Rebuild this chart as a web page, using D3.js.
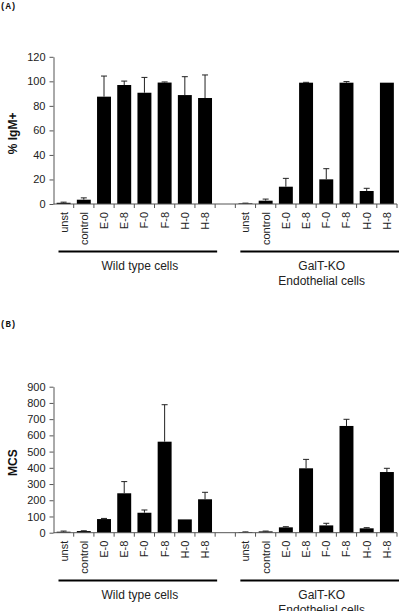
<!DOCTYPE html>
<html><head><meta charset="utf-8">
<script src="https://cdn.jsdelivr.net/npm/d3@7"></script>
<style>body{margin:0;background:#fff}svg{display:block}</style>
</head><body>
<script>
const categories = ["unst","control","E-0","E-8","F-0","F-8","H-0","H-8"];
const groups = ["Wild type cells", "GalT-KO\nEndothelial cells"];
// Panel A: % IgM+
const aWT = [1, 3.5, 87.5, 97, 90.7, 99, 88.8, 86.4];
const aWTerr = [0.5, 1.5, 16.8, 3.2, 12.5, 0.5, 15, 18.8];
const aKO = [0.5, 2.7, 14.1, 98.9, 20.1, 98.9, 10.6, 98.9];
const aKOerr = [0.2, 1.3, 6.8, 0.3, 8.7, 0.9, 2.2, 0];
const aTicks = [0,20,40,60,80,100,120];
// Panel B: MCS
const bWT = [6, 10, 84, 243, 123, 561, 82, 206];
const bWTerr = [4, 2, 4, 72, 17, 228, 0, 43];
const bKO = [4, 8, 33, 397, 45, 658, 27, 374];
const bKOerr = [1, 2, 4, 55, 13, 41, 4, 23];
const bTicks = [0,100,200,300,400,500,600,700,800,900];

const W = 400, H = 611;
const svg = d3.select("body").append("svg").attr("width", W).attr("height", H);
const font = "Liberation Sans, Arial, sans-serif";

const slots = [...categories.map(c => "wt|" + c), "gap", ...categories.map(c => "ko|" + c)];
const x = d3.scaleBand().domain(slots).range([53.5, 397]).paddingInner(0).paddingOuter(0);
const barW = x.bandwidth() * 0.69;

function panel(opts) {
  const {letter, letterY, y, ticks, yLabel, wt, wtErr, ko, koErr, lineY} = opts;
  const g = svg.append("g");
  g.append("text").attr("x", 0).attr("y", letterY).text("(" + letter + ")")
    .attr("font-family", "Liberation Mono, Courier New, monospace").attr("font-weight", "bold")
    .attr("font-size", 9).attr("fill", "#111");

  const x0 = x.range()[0];
  // y axis
  const yAxis = d3.axisLeft(y).tickValues(ticks).tickSize(4).tickPadding(4).tickSizeOuter(0);
  const ya = g.append("g").attr("transform", `translate(${x0},0)`).call(yAxis);
  ya.selectAll("text").attr("font-family", font).attr("font-size", 11).attr("fill", "#222");
  ya.selectAll("line,path").attr("stroke", "#555");

  // y label
  const [r0, r1] = y.range();
  g.append("text").attr("transform", `translate(17,${(r0 + r1) / 2 + 3}) rotate(-90)`)
    .attr("text-anchor", "middle").attr("font-family", font).attr("font-weight", "bold")
    .attr("font-size", 12).attr("fill", "#111").text(yLabel);

  // data rows
  const rows = [];
  categories.forEach((c, i) => {
    rows.push({key: "wt|" + c, v: wt[i], e: wtErr[i]});
    rows.push({key: "ko|" + c, v: ko[i], e: koErr[i]});
  });

  // bars
  g.selectAll("rect.bar").data(rows).join("rect").attr("class", "bar")
    .attr("x", d => x(d.key) + (x.bandwidth() - barW) / 2)
    .attr("y", d => y(d.v)).attr("width", barW).attr("height", d => y(0) - y(d.v))
    .attr("fill", "#000");

  // error bars (upper only)
  const eb = g.selectAll("g.err").data(rows.filter(d => d.e > 0)).join("g").attr("class", "err");
  eb.append("line").attr("x1", d => x(d.key) + x.bandwidth() / 2).attr("x2", d => x(d.key) + x.bandwidth() / 2)
    .attr("y1", d => y(d.v)).attr("y2", d => y(d.v + d.e)).attr("stroke", "#222").attr("stroke-width", 1);
  eb.append("line").attr("x1", d => x(d.key) + x.bandwidth() / 2 - 3).attr("x2", d => x(d.key) + x.bandwidth() / 2 + 3)
    .attr("y1", d => y(d.v + d.e)).attr("y2", d => y(d.v + d.e)).attr("stroke", "#222").attr("stroke-width", 1);

  // x axis line and ticks at slot boundaries
  const base = y(0);
  g.append("line").attr("x1", x0).attr("x2", x.range()[1]).attr("y1", base).attr("y2", base)
    .attr("stroke", "#555");
  const bounds = slots.map(s => x(s)).concat([x.range()[1]]).slice(1);
  g.selectAll("line.xt").data(bounds).join("line").attr("class", "xt")
    .attr("x1", d => d).attr("x2", d => d).attr("y1", base).attr("y2", base + 4).attr("stroke", "#555");

  // category labels
  g.selectAll("text.cat").data(rows).join("text").attr("class", "cat")
    .attr("transform", d => `translate(${x(d.key) + x.bandwidth() / 2 + 4},${base + 8}) rotate(-90)`)
    .attr("text-anchor", "end").attr("font-family", font).attr("font-size", 11).attr("fill", "#222")
    .text(d => d.key.split("|")[1]);

  // group lines + labels
  ["wt", "ko"].forEach((k, gi) => {
    const xs = x(k + "|" + categories[0]) + 5;
    const xe = x(k + "|" + categories[categories.length - 1]) + x.bandwidth() + 2;
    g.append("line").attr("x1", xs).attr("x2", xe).attr("y1", lineY).attr("y2", lineY)
      .attr("stroke", "#000").attr("stroke-width", 2);
    const lines = groups[gi].split("\n");
    g.append("text").attr("x", (xs + xe) / 2 + 2).attr("y", lineY + 18)
      .attr("text-anchor", "middle").attr("font-family", font).attr("font-size", 12).attr("fill", "#222")
      .selectAll("tspan").data(lines).join("tspan")
      .attr("x", (xs + xe) / 2 + 2).attr("dy", (d, i) => i === 0 ? 0 : 15).text(d => d);
  });
}

panel({letter: "A", letterY: 9, y: d3.scaleLinear().domain([0, 120]).range([204, 56.8]),
  ticks: aTicks, yLabel: "% IgM+", wt: aWT, wtErr: aWTerr, ko: aKO, koErr: aKOerr, lineY: 251.5});
panel({letter: "B", letterY: 327, y: d3.scaleLinear().domain([0, 900]).range([532.7, 386.7]),
  ticks: bTicks, yLabel: "MCS", wt: bWT, wtErr: bWTerr, ko: bKO, koErr: bKOerr, lineY: 580.5});
</script>
</body></html>
